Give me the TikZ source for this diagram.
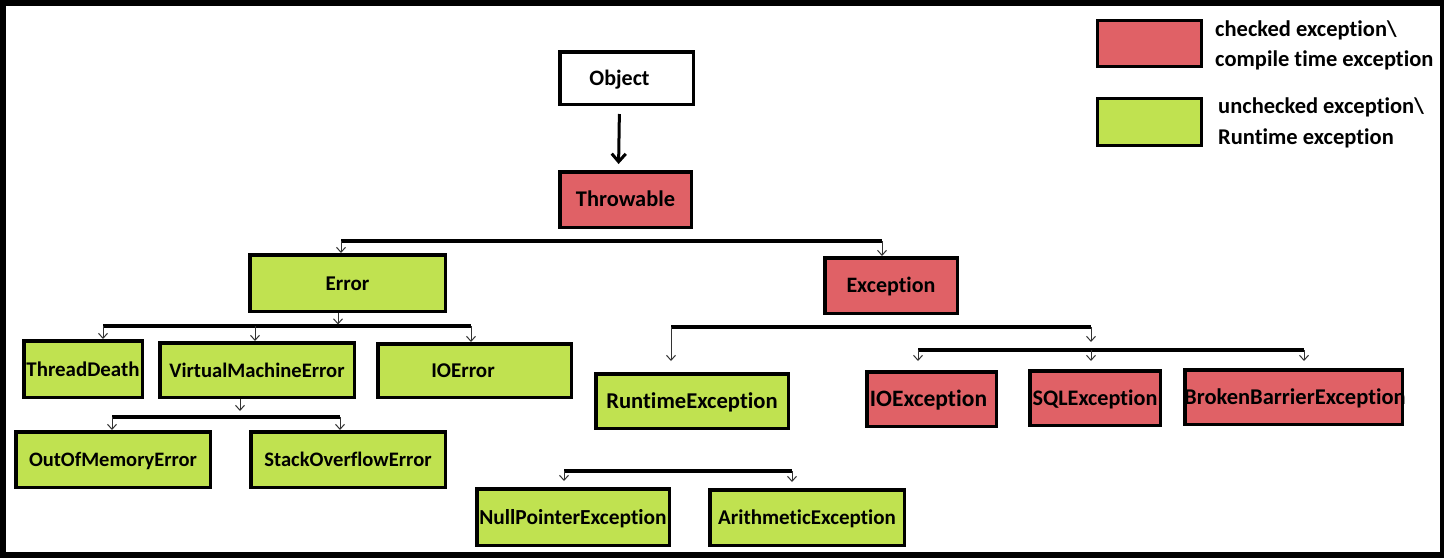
\documentclass[tikz,border=0pt]{standalone}
\usepackage{fontspec}
\setmainfont{Carlito}[Ligatures=NoCommon]
\usetikzlibrary{arrows.meta}
\definecolor{chk}{RGB}{224,97,102}
\definecolor{unchk}{RGB}{192,226,80}
\begin{document}
\begin{tikzpicture}[x=1pt,y=-1pt,
  fs/.style={font=\fontsize{#1}{#1}\selectfont\bfseries},
  box/.style={draw=black, line width=3.5pt, inner sep=0pt, fs=22,
    text height=14pt, text depth=0pt},
  redbox/.style={box, fill=chk},
  greenbox/.style={box, fill=unchk},
  whitebox/.style={box, fill=white},
  legbox/.style={draw=black, line width=3.3pt, inner sep=0pt},
  bar/.style={line width=3.5pt, draw=black},
  tarrow/.style={line width=1pt, draw=black!80, -{Straight Barb[length=5pt,width=9pt]}},
  marrow/.style={line width=3pt, draw=black, -{Straight Barb[length=8pt,width=14pt]}},
  legtext/.style={anchor=base west, inner sep=0pt, fs=22.5}
]
\fill[black] (0,0) rectangle (1444,558);
\fill[white] (6,6) rectangle (1440,552);
\useasboundingbox (0,0) rectangle (1444,558);

% nodes
\node[whitebox, minimum width=133.5pt, minimum height=52.5pt] (Object) at (626.5,78) {\kern-14pt Object};
\node[redbox, fs=22.4, minimum width=131.5pt, minimum height=55.5pt] (Throwable) at (625.5,199.5) {Throwable};
\node[greenbox, fs=21, minimum width=195.5pt, minimum height=56.5pt] (Error) at (347.5,283) {Error};
\node[redbox, minimum width=132.5pt, minimum height=55.5pt] (Exception) at (891,285.5) {Exception};
\node[greenbox, fs=20.9, minimum width=118.5pt, minimum height=56.5pt] (TD) at (83,369) {ThreadDeath};
\node[greenbox, fs=20.6, minimum width=194.5pt, minimum height=54.5pt] (VME) at (257,370) {VirtualMachineError};
\node[greenbox, fs=21, minimum width=193.5pt, minimum height=53.5pt] (IOError) at (474.5,370.5) {\kern-23pt IOError};
\node[greenbox, fs=20.5, minimum width=194.5pt, minimum height=55.5pt] (OOM) at (113,459.5) {OutOfMemoryError};
\node[greenbox, fs=20.6, minimum width=194.5pt, minimum height=55.5pt] (SOE) at (348,459.5) {StackOverflowError};
\node[greenbox, fs=22.6, minimum width=192.5pt, minimum height=54.5pt] (RE) at (692,401) {RuntimeException};
\node[redbox, fs=23.5, minimum width=129.5pt, minimum height=54.5pt] (IOE) at (931.5,399) {\makebox[110pt]{\kern-6pt IOException}};
\node[redbox, fs=22.2, minimum width=130.5pt, minimum height=54.5pt] (SQL) at (1095,398) {\makebox[120pt]{SQLException}};
\node[redbox, fs=22.5, minimum width=217.5pt, minimum height=54.5pt] (BBE) at (1293.5,397) {\makebox[200pt]{\kern3pt BrokenBarrierException}};
\node[greenbox, fs=21.4, minimum width=192.5pt, minimum height=56.5pt] (NPE) at (573,517) {NullPointerException};
\node[greenbox, fs=21, minimum width=194.5pt, minimum height=55.5pt] (AE) at (807,517.5) {ArithmeticException};

% legend
\node[legbox, fill=chk, minimum width=103.5pt, minimum height=45.5pt] (LR) at (1149.5,43.5) {};
\node[legbox, fill=unchk, minimum width=103.5pt, minimum height=46.5pt] (LG) at (1149.5,122) {};
\node[legtext] (LR1) at (1215,36) {checked exception\textbackslash};
\node[legtext] (LR2) at (1215,66) {compile time exception};
\node[legtext] (LG1) at (1218,113) {unchecked exception\textbackslash};
\node[legtext] (LG2) at (1218,144) {Runtime exception};

% Object -> Throwable
\draw[marrow, shorten <=8pt, shorten >=6pt] ([xshift=-7pt]Object.south) -- ([xshift=-7pt]Throwable.north);

% Throwable children
\coordinate (t1) at (341,241);
\coordinate (t2) at (882,241);
\draw[bar] (t1) -- (t2);
\draw[tarrow] (t1) -- (t1 |- Error.north);
\draw[tarrow] (t2) -- (t2 |- Exception.north);

% Error children
\coordinate (e0) at (338,326);
\coordinate (e1) at (103,326);
\coordinate (e2) at (255,326);
\coordinate (e3) at (471,326);
\draw[bar] (e1) -- (e3);
\draw[tarrow, shorten >=1.5pt] (e0 |- Error.south) -- (e0);
\draw[tarrow] (e1) -- (e1 |- TD.north);
\draw[tarrow] (e2) -- (e2 |- VME.north);
\draw[tarrow] (e3) -- (e3 |- IOError.north);

% VirtualMachineError children
\coordinate (v0) at (240,417);
\coordinate (v1) at (112,417);
\coordinate (v2) at (340,417);
\draw[bar] (v1) -- (v2);
\draw[tarrow, shorten >=6pt] (v0 |- VME.south) -- (v0);
\draw[tarrow] (v1) -- (v1 |- OOM.north);
\draw[tarrow] (v2) -- (v2 |- SOE.north);

% Exception children
\coordinate (x1) at (671,327);
\coordinate (x2) at (1091,327);
\draw[bar] (x1) -- (x2);
\draw[tarrow, shorten >=11pt] (x1) -- (x1 |- RE.north);
\coordinate (y1) at (918,350);
\coordinate (y2) at (1091,350);
\coordinate (y3) at (1304,350);
\draw[tarrow, shorten >=8pt] (x2) -- (y2);
\draw[bar] (y1) -- (y3);
\draw[tarrow, shorten >=9pt] (y1) -- (y1 |- IOE.north);
\draw[tarrow, shorten >=8pt] (y2) -- (y2 |- SQL.north);
\draw[tarrow, shorten >=7pt] (y3) -- (y3 |- BBE.north);

% RuntimeException children bar
\coordinate (n1) at (564,471);
\coordinate (n2) at (792,471);
\draw[bar] (n1) -- (n2);
\draw[tarrow, shorten >=6pt] (n1) -- (n1 |- NPE.north);
\draw[tarrow, shorten >=6pt] (n2) -- (n2 |- AE.north);
\end{tikzpicture}
\end{document}
